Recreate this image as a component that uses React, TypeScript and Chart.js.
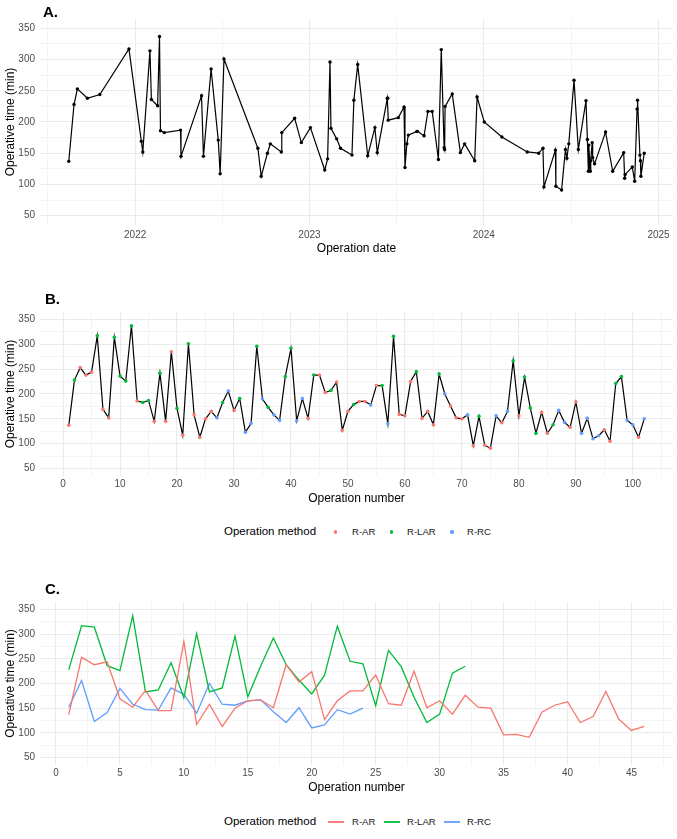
import React, { useEffect, useRef } from 'react';
import { Chart, registerables } from 'chart.js';

Chart.register(...registerables);

const FONT = "'Liberation Sans', Arial, Helvetica, sans-serif";

const AR = 'R-AR';
const LAR = 'R-LAR';
const RC = 'R-RC';

// One entry per operation; the operation number is the 1-based position.
const operativeTime = [
  137, 228, 253, 238, 244, 317, 169, 152, 314, 236,
  226, 337, 186, 183, 187, 145, 242, 145, 285, 171,
  117, 301, 158, 113, 150, 165, 152, 183, 206, 167,
  191, 123, 141, 296, 190, 173, 158, 147, 235, 292,
  146, 191, 151, 238, 238, 203, 207, 224, 127, 165,
  179, 185, 185, 178, 217, 217, 140, 316, 159, 156,
  225, 245, 151, 165, 138, 240, 200, 176, 152, 150,
  158, 96, 155, 97, 91, 156, 142, 165, 267, 156,
  234, 172, 121, 163, 121, 138, 167, 143, 133, 184,
  121, 151, 110, 116, 128, 105, 221, 235, 147, 138,
  113, 150,
];

const operationMethod = [
  AR, LAR, AR, AR, AR, LAR, AR, AR, LAR, LAR,
  LAR, LAR, AR, LAR, LAR, AR, LAR, AR, AR, LAR,
  AR, LAR, AR, AR, AR, AR, RC, LAR, RC, AR,
  LAR, RC, RC, LAR, RC, LAR, RC, RC, LAR, LAR,
  RC, RC, AR, LAR, AR, AR, LAR, AR, AR, AR,
  LAR, AR, AR, RC, AR, LAR, RC, LAR, AR, AR,
  AR, LAR, AR, AR, AR, LAR, RC, AR, AR, AR,
  RC, AR, LAR, AR, AR, RC, AR, RC, LAR, AR,
  LAR, LAR, LAR, AR, AR, LAR, RC, RC, AR, AR,
  RC, RC, RC, RC, AR, AR, LAR, LAR, RC, RC,
  AR, RC,
];

const operationDate = [
  '2021-08-15', '2021-08-26', '2021-09-02', '2021-09-23', '2021-10-19', '2021-12-19', '2022-01-14', '2022-01-17', '2022-02-01', '2022-02-04',
  '2022-02-17', '2022-02-21', '2022-02-23', '2022-03-03', '2022-04-06', '2022-04-07', '2022-05-20', '2022-05-24', '2022-06-09', '2022-06-24',
  '2022-06-28', '2022-07-06', '2022-09-15', '2022-09-22', '2022-10-05', '2022-10-11', '2022-11-03', '2022-11-04', '2022-12-01', '2022-12-15',
  '2023-01-03', '2023-02-02', '2023-02-08', '2023-02-13', '2023-02-15', '2023-02-27', '2023-03-07', '2023-03-31', '2023-04-04', '2023-04-12',
  '2023-05-03', '2023-05-18', '2023-05-23', '2023-06-13', '2023-06-14', '2023-06-15', '2023-07-06', '2023-07-18', '2023-07-20', '2023-07-24',
  '2023-07-27', '2023-08-14', '2023-08-15', '2023-08-29', '2023-09-06', '2023-09-15', '2023-09-28', '2023-10-04', '2023-10-10', '2023-10-11',
  '2023-10-12', '2023-10-27', '2023-11-13', '2023-11-22', '2023-12-13', '2023-12-18', '2024-01-02', '2024-02-08', '2024-04-01', '2024-04-25',
  '2024-05-04', '2024-05-06', '2024-05-30', '2024-05-31', '2024-06-12', '2024-06-20', '2024-06-23', '2024-06-27', '2024-07-08', '2024-07-17',
  '2024-08-02', '2024-08-05', '2024-08-07', '2024-08-08', '2024-08-11', '2024-08-12', '2024-08-15', '2024-08-16', '2024-08-20', '2024-09-12',
  '2024-09-27', '2024-10-20', '2024-10-22', '2024-10-23', '2024-11-07', '2024-11-12', '2024-11-17', '2024-11-18', '2024-11-23', '2024-11-24',
  '2024-11-25', '2024-12-02',
];

const methods = [AR, LAR, RC];
const methodColors = ['#F8766D', '#00BA38', '#619CFF'];

const timeBreaks = [50, 100, 150, 200, 250, 300, 350];
const yearBreaks = [2022, 2023, 2024, 2025];
const numberBreaksB = [0, 10, 20, 30, 40, 50, 60, 70, 80, 90, 100];
const numberBreaksC = [0, 5, 10, 15, 20, 25, 30, 35, 40, 45];

const TICK_COLOR = '#4D4D4D';
const GRID_MAJOR = '#EBEBEB';
const GRID_MINOR = '#F1F1F1';

function expandRange(lo: number, hi: number, mult = 0.05): [number, number] {
  const pad = (hi - lo) * mult;
  return [lo - pad, hi + pad];
}

// Midpoints between consecutive breaks, with one extra break on each side.
function minorBreaks(major: number[], lo: number, hi: number): number[] {
  const step = major[1] - major[0];
  const ext = [major[0] - step, ...major, major[major.length - 1] + step];
  const out: number[] = [];
  for (let i = 0; i < ext.length - 1; i++) {
    const m = (ext[i] + ext[i + 1]) / 2;
    if (m >= lo && m <= hi) out.push(m);
  }
  return out;
}

type AxisSpec = {
  axis: 'x' | 'y';
  min: number;
  max: number;
  major: number[];
  minor: number[];
  label: (v: number) => string;
  title: string;
  size: number;
  tickPad: number;
  titlePad: { top: number; bottom: number };
};

function makeScale(s: AxisSpec) {
  const majorSet = new Set(s.major);
  const all = [...s.major, ...s.minor].sort((a, b) => a - b);
  return {
    type: 'linear',
    min: s.min,
    max: s.max,
    afterBuildTicks: (scale: any) => {
      scale.ticks = all.map((v) => ({ value: v }));
    },
    afterFit: (scale: any) => {
      if (s.axis === 'y') scale.width = s.size;
      else scale.height = s.size;
    },
    border: { display: false },
    grid: {
      drawTicks: false,
      color: (ctx: any) => (ctx.tick && majorSet.has(ctx.tick.value) ? GRID_MAJOR : GRID_MINOR),
      lineWidth: (ctx: any) => (ctx.tick && majorSet.has(ctx.tick.value) ? 1.1 : 0.8),
    },
    ticks: {
      autoSkip: false,
      maxRotation: 0,
      minRotation: 0,
      padding: s.tickPad,
      color: TICK_COLOR,
      font: { family: FONT, size: 10 },
      callback: (v: any) => (majorSet.has(Number(v)) ? s.label(Number(v)) : ''),
    },
    title: {
      display: true,
      text: s.title,
      color: '#000000',
      font: { family: FONT, size: 12 },
      padding: s.titlePad,
    },
  };
}

function yScale() {
  const [lo, hi] = expandRange(timeBreaks[0], timeBreaks[timeBreaks.length - 1]);
  return makeScale({
    axis: 'y',
    min: lo,
    max: hi,
    major: timeBreaks,
    minor: minorBreaks(timeBreaks, lo, hi),
    label: (v) => String(v),
    title: 'Operative time (min)',
    size: 40,
    tickPad: 5,
    titlePad: { top: 3, bottom: 4 },
  });
}

function baseOptions(padTop: number, scales: any) {
  return {
    responsive: false,
    maintainAspectRatio: false,
    devicePixelRatio: 1,
    animation: false,
    events: [],
    layout: { padding: { top: padTop, right: 4, left: 0, bottom: 0 } },
    plugins: { legend: { display: false }, tooltip: { enabled: false } },
    scales,
  };
}

function configByDate(): any {
  const xs = operationDate.map((d) => Date.parse(d));
  const [lo, hi] = expandRange(xs[0], xs[xs.length - 1]);
  const major = yearBreaks.map((y) => Date.UTC(y, 0, 1));
  const allYears = [yearBreaks[0] - 1, ...yearBreaks, yearBreaks[yearBreaks.length - 1] + 1].map((y) => Date.UTC(y, 0, 1));
  const minor: number[] = [];
  for (let i = 0; i < allYears.length - 1; i++) {
    const m = (allYears[i] + allYears[i + 1]) / 2;
    if (m >= lo && m <= hi) minor.push(m);
  }
  return {
    type: 'line',
    data: {
      datasets: [
        {
          data: xs.map((x, i) => ({ x, y: operativeTime[i] })),
          borderColor: '#000000',
          borderWidth: 1.2,
          pointRadius: 1.7,
          pointBackgroundColor: '#000000',
          pointBorderWidth: 0,
          tension: 0,
        },
      ],
    },
    options: baseOptions(19, {
      x: makeScale({
        axis: 'x',
        min: lo,
        max: hi,
        major,
        minor,
        label: (v) => String(new Date(v).getUTCFullYear()),
        title: 'Operation date',
        size: 35,
        tickPad: 4,
        titlePad: { top: 4, bottom: 4 },
      }),
      y: yScale(),
    }),
  };
}

function configByNumber(): any {
  const n = operativeTime.length;
  const [lo, hi] = expandRange(1, n);
  return {
    type: 'line',
    data: {
      datasets: [
        {
          data: operativeTime.map((y, i) => ({ x: i + 1, y })),
          borderColor: '#000000',
          borderWidth: 1.2,
          pointRadius: 1.8,
          pointBackgroundColor: operationMethod.map((m) => methodColors[methods.indexOf(m)]),
          pointBorderWidth: 0,
          tension: 0,
        },
      ],
    },
    options: baseOptions(32, {
      x: makeScale({
        axis: 'x',
        min: lo,
        max: hi,
        major: numberBreaksB,
        minor: minorBreaks(numberBreaksB, lo, hi),
        label: (v) => String(v),
        title: 'Operation number',
        size: 34,
        tickPad: 2,
        titlePad: { top: 4, bottom: 4 },
      }),
      y: yScale(),
    }),
  };
}

function configByMethod(): any {
  const series = methods.map((m) =>
    operativeTime.filter((_, i) => operationMethod[i] === m).map((y, k) => ({ x: k + 1, y }))
  );
  const longest = Math.max(...series.map((s) => s.length));
  const [lo, hi] = expandRange(1, longest);
  return {
    type: 'line',
    data: {
      datasets: series.map((data, k) => ({
        label: methods[k],
        data,
        borderColor: methodColors[k],
        borderWidth: 1.3,
        pointRadius: 0,
        tension: 0,
      })),
    },
    options: baseOptions(42, {
      x: makeScale({
        axis: 'x',
        min: lo,
        max: hi,
        major: numberBreaksC,
        minor: minorBreaks(numberBreaksC, lo, hi),
        label: (v) => String(v),
        title: 'Operation number',
        size: 34,
        tickPad: 2,
        titlePad: { top: 4, bottom: 4 },
      }),
      y: yScale(),
    }),
  };
}

const abs = (left: number, top: number, extra: React.CSSProperties = {}): React.CSSProperties => ({
  position: 'absolute',
  left,
  top,
  whiteSpace: 'nowrap',
  ...extra,
});

function PanelTag({ text, left, center }: { text: string; left: number; center: number }) {
  return (
    <div style={abs(left, center - 7.5, { fontSize: 15, lineHeight: '15px', fontWeight: 700, color: '#000' })}>{text}</div>
  );
}

function MethodLegend({ center, keyType }: { center: number; keyType: 'point' | 'line' }) {
  const keyCenters = [335.5, 391.5, 452];
  const labelLefts = [352, 407, 467];
  return (
    <>
      <div style={abs(224, center - 6.5, { fontSize: 11.5, lineHeight: '13px', color: '#000' })}>Operation method</div>
      {methods.map((m, k) => (
        <React.Fragment key={m}>
          {keyType === 'point' ? (
            <div
              style={abs(keyCenters[k] - 1.8, center - 1.3, {
                width: 3.6,
                height: 3.6,
                borderRadius: '50%',
                background: methodColors[k],
              })}
            />
          ) : (
            <div
              style={abs(Math.round(keyCenters[k] - 8), Math.round(center), {
                width: 16,
                height: 2,
                background: methodColors[k],
                opacity: 0.9,
              })}
            />
          )}
          <div style={abs(labelLefts[k], center - 5.5, { fontSize: 9.6, lineHeight: '11px', color: '#1A1A1A' })}>{m}</div>
        </React.Fragment>
      ))}
    </>
  );
}

export default function App() {
  const refA = useRef<HTMLCanvasElement>(null);
  const refB = useRef<HTMLCanvasElement>(null);
  const refC = useRef<HTMLCanvasElement>(null);

  useEffect(() => {
    const charts = [
      new Chart(refA.current as HTMLCanvasElement, configByDate()),
      new Chart(refB.current as HTMLCanvasElement, configByNumber()),
      new Chart(refC.current as HTMLCanvasElement, configByMethod()),
    ];
    return () => charts.forEach((c) => c.destroy());
  }, []);

  return (
    <div
      style={{
        position: 'absolute',
        left: 0,
        top: 0,
        width: 677,
        height: 839,
        background: '#ffffff',
        overflow: 'hidden',
        fontFamily: FONT,
      }}
    >
      <canvas ref={refA} width={677} height={260} style={abs(0, 0, { width: 677, height: 260 })} />
      <canvas ref={refB} width={677} height={230} style={abs(0, 280, { width: 677, height: 230 })} />
      <canvas ref={refC} width={677} height={239} style={abs(0, 560, { width: 677, height: 239 })} />
      <PanelTag text="A." left={43} center={11.5} />
      <PanelTag text="B." left={45} center={298.7} />
      <PanelTag text="C." left={45} center={588.7} />
      <MethodLegend center={531.7} keyType="point" />
      <MethodLegend center={821} keyType="line" />
    </div>
  );
}
